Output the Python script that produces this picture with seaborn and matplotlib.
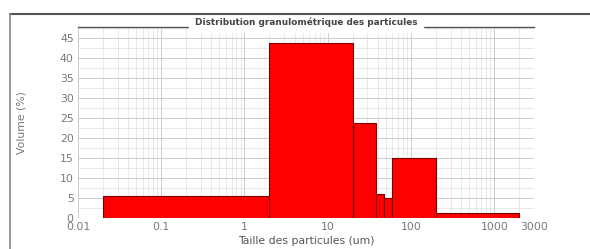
import numpy as np
import matplotlib
matplotlib.use("Agg")
import matplotlib.pyplot as plt
from matplotlib.lines import Line2D
from matplotlib.ticker import FixedLocator, LogLocator, MultipleLocator, NullFormatter
import seaborn as sns

# size classes (um) and volume (%)
bin_edges = [0.02, 2, 20, 38, 48, 60, 200, 2000]
volume = [5.5, 43.75, 23.75, 6.0, 5.0, 15.0, 1.25]
x_ticks = [0.01, 0.1, 1, 10, 100, 1000, 3000]
x_tick_labels = ["0.01", "0.1", "1", "10", "100", "1000", "3000"]
y_ticks = [0, 5, 10, 15, 20, 25, 30, 35, 40, 45]

sns.set_style("white")
plt.rcParams['font.family'] = ['DejaVu Sans']

fig = plt.figure(figsize=(5.9, 2.49), dpi=100)
ax = fig.add_axes([0.132, 0.124, 0.773, 0.768])

edges = np.array(bin_edges)
centers = np.sqrt(edges[:-1] * edges[1:])
sns.histplot(x=centers, weights=volume, bins=bin_edges, stat="count",
             color="#ff0000", alpha=1, edgecolor="#7a0000", linewidth=0.8, ax=ax)

ax.set_xscale("log")
ax.set_xlim(0.01, 3000)
ax.set_ylim(0, 47.75)
ax.set_axisbelow(True)

ax.xaxis.set_major_locator(FixedLocator(x_ticks))
ax.set_xticklabels(x_tick_labels)
ax.xaxis.set_minor_locator(LogLocator(base=10, subs=np.arange(2, 10)))
ax.xaxis.set_minor_formatter(NullFormatter())
ax.set_yticks(y_ticks)
ax.yaxis.set_minor_locator(MultipleLocator(2.5))

ax.grid(which="major", color="#c4c4c4", linewidth=0.6)
ax.grid(which="minor", color="#dedede", linewidth=0.5)
ax.tick_params(axis="both", which="both", length=0, labelsize=7.8,
               labelcolor="#777777", pad=3)

for side in ["left", "bottom", "right"]:
    ax.spines[side].set_visible(False)
ax.spines["top"].set_color("#555555")
ax.spines["top"].set_linewidth(1.0)

ax.set_xlabel("Taille des particules (um)", fontsize=7.8, color="#555555")
ax.set_ylabel("Volume (%)", fontsize=7.8, color="#777777")
ax.xaxis.set_label_coords(0.5, -0.095)
ax.yaxis.set_label_coords(-0.112, 0.5)
ax.set_title("Distribution granulométrique des particules", fontsize=6.4,
             fontweight="bold", color="#444444", pad=1.5,
             backgroundcolor="white")

# outer frame lines
fig.add_artist(Line2D([10 / 590, 1], [1 - 14 / 249, 1 - 14 / 249],
                      transform=fig.transFigure, color="#555555", linewidth=1.5))
fig.add_artist(Line2D([10 / 590, 10 / 590], [0, 1 - 14 / 249],
                      transform=fig.transFigure, color="#888888", linewidth=1.2))

fig.savefig("out.png", dpi=100)
